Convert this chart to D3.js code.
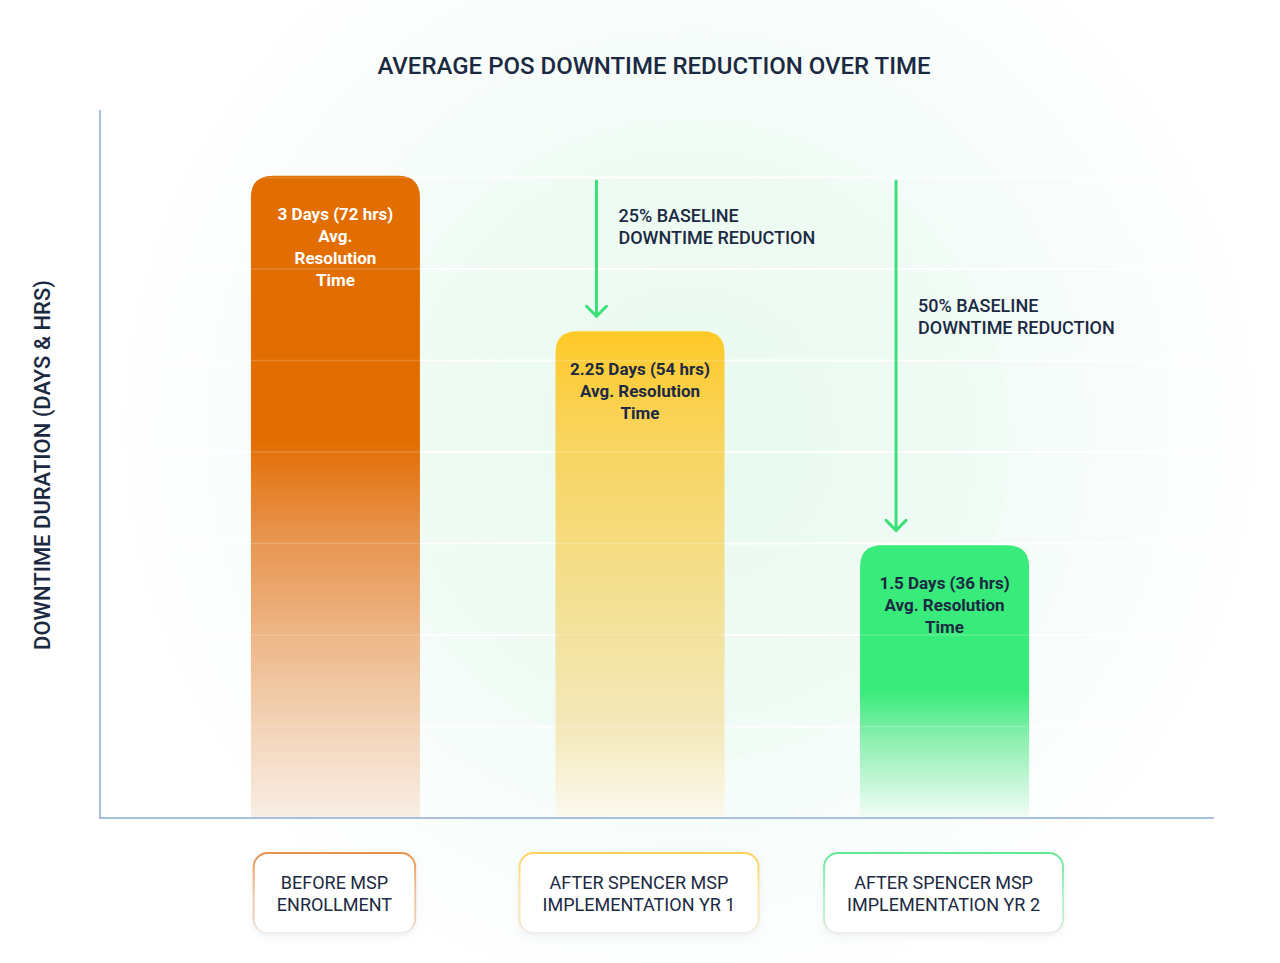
<!DOCTYPE html>
<html>
<head>
<meta charset="utf-8">
<script src="https://cdn.jsdelivr.net/npm/d3@7"></script>
<style>
  html, body { margin: 0; padding: 0; background: #fff; }
  svg { display: block; font-family: Roboto, "Open Sans", sans-serif; }
</style>
</head>
<body>
<svg id="chart"></svg>
<script>
const categories = ["BEFORE MSP|ENROLLMENT", "AFTER SPENCER MSP|IMPLEMENTATION YR 1", "AFTER SPENCER MSP|IMPLEMENTATION YR 2"]
// bar heights as drawn, in grid units (gridlines every 10)
const barValues = [70.2, 53.2, 29.8]
const barLabels = [
  ["3 Days (72 hrs)", "Avg.", "Resolution", "Time"],
  ["2.25 Days (54 hrs)", "Avg. Resolution", "Time"],
  ["1.5 Days (36 hrs)", "Avg. Resolution", "Time"],
]
const gridTicks = [10, 20, 30, 40, 50, 60, 70]
const reductions = [null, ["25% BASELINE", "DOWNTIME REDUCTION"], ["50% BASELINE", "DOWNTIME REDUCTION"]]
const title = "AVERAGE POS DOWNTIME REDUCTION OVER TIME"
const yTitle = "DOWNTIME DURATION (DAYS & HRS)"

const width = 1280
const height = 963
const ink = "#1b2942"
const arrowGreen = "#3ce07b"

const svg = d3.select("#chart").attr("width", width).attr("height", height)
const defs = svg.append("defs")

// background glow
const bg = defs.append("radialGradient").attr("id", "bgGlow")
  .attr("gradientUnits", "userSpaceOnUse").attr("cx", 690).attr("cy", 430).attr("r", 600)
bg.append("stop").attr("offset", 0).attr("stop-color", "#edfbf3")
bg.append("stop").attr("offset", 0.55).attr("stop-color", "#f4fcf8")
bg.append("stop").attr("offset", 1).attr("stop-color", "#ffffff")
svg.append("rect").attr("width", width).attr("height", height).attr("fill", "url(#bgGlow)")

const inner = defs.append("radialGradient").attr("id", "innerGlow")
  .attr("gradientUnits", "userSpaceOnUse").attr("cx", 690).attr("cy", 440).attr("r", 330)
inner.append("stop").attr("offset", 0).attr("stop-color", "#e8faef").attr("stop-opacity", 0.8)
inner.append("stop").attr("offset", 0.96).attr("stop-color", "#ecfbf2").attr("stop-opacity", 0.5)
inner.append("stop").attr("offset", 1).attr("stop-color", "#ffffff").attr("stop-opacity", 0)
svg.append("circle").attr("cx", 690).attr("cy", 440).attr("r", 330).attr("fill", "url(#innerGlow)")

const x = d3.scaleBand().domain(categories).range([183, 1097])
  .paddingInner(0.445).paddingOuter(0.223)
const y = d3.scaleLinear().domain([0, 80]).range([818, 86])

// bar gradients
const barStops = [
  [[0, "#e26d00"], [0.41, "#e26d00"], [0.55, "#e8914a"], [0.78, "#f0c49e"], [1, "#f9eee5"]],
  [[0, "#ffc926"], [0.2, "#f9d35a"], [0.55, "#f3e093"], [0.82, "#f4e9bb"], [1, "#fcf9ef"]],
  [[0, "#38eb7b"], [0.53, "#38eb7b"], [0.72, "#8ff0b2"], [1, "#f3fcf7"]],
]
barStops.forEach((stops, i) => {
  const g = defs.append("linearGradient").attr("id", `bar${i}`)
    .attr("x1", 0).attr("y1", 0).attr("x2", 0).attr("y2", 1)
  stops.forEach(s => g.append("stop").attr("offset", s[0]).attr("stop-color", s[1]))
})
const boxColors = ["#e8914a", "#ffd45c", "#63e896"]
boxColors.forEach((c, i) => {
  const g = defs.append("linearGradient").attr("id", `box${i}`)
    .attr("x1", 0).attr("y1", 0).attr("x2", 0).attr("y2", 1)
  g.append("stop").attr("offset", 0).attr("stop-color", c)
  g.append("stop").attr("offset", 0.55).attr("stop-color", c).attr("stop-opacity", 0.45)
  g.append("stop").attr("offset", 1).attr("stop-color", "#f1ede9")
})
const shadow = defs.append("filter").attr("id", "shadow").attr("x", "-20%").attr("y", "-20%").attr("width", "140%").attr("height", "160%")
shadow.append("feDropShadow").attr("dx", 0).attr("dy", 2).attr("stdDeviation", 3)
  .attr("flood-color", "#9aa9b8").attr("flood-opacity", 0.18)

const data = categories.map((c, i) => ({ cat: c, value: barValues[i], label: barLabels[i], note: reductions[i], i }))

// gridlines behind the bars
const grid = (opacity) => svg.append("g").selectAll("line").data(gridTicks).enter().append("line")
  .attr("x1", 102).attr("x2", 1214)
  .attr("y1", d => y(d)).attr("y2", d => y(d))
  .attr("stroke", "#ffffff").attr("stroke-width", 2).attr("stroke-opacity", opacity)
grid(0.9)

// bars with rounded tops
const r = 22
const barPath = d => {
  const x0 = x(d.cat), x1 = x0 + x.bandwidth(), y0 = y(d.value), yb = y(0)
  return `M${x0},${yb}V${y0 + r}Q${x0},${y0} ${x0 + r},${y0}H${x1 - r}Q${x1},${y0} ${x1},${y0 + r}V${yb}Z`
}
const bars = svg.selectAll(".bar").data(data).enter().append("path")
  .attr("class", "bar")
  .attr("d", barPath)
  .attr("fill", d => `url(#bar${d.i})`)

// same gridlines, barely visible across the bars
const clip = defs.append("clipPath").attr("id", "barClip")
data.forEach(d => clip.append("path").attr("d", barPath(d)))
svg.append("g").attr("clip-path", "url(#barClip)").selectAll("line").data(gridTicks).enter().append("line")
  .attr("x1", 102).attr("x2", 1214)
  .attr("y1", d => y(d)).attr("y2", d => y(d))
  .attr("stroke", "#ffffff").attr("stroke-width", 1.5).attr("stroke-opacity", 0.18)

// axes
svg.append("line").attr("x1", 100).attr("x2", 100).attr("y1", 110).attr("y2", y(0) + 1)
  .attr("stroke", "#a9c0dd").attr("stroke-width", 2)
svg.append("line").attr("x1", 99).attr("x2", 1214).attr("y1", y(0)).attr("y2", y(0))
  .attr("stroke", "#a9c0dd").attr("stroke-width", 2)

// bar labels
data.forEach(d => {
  const t = svg.append("text")
    .attr("text-anchor", "middle")
    .attr("font-size", 17).attr("font-weight", 700)
    .attr("fill", d.i === 0 ? "#ffffff" : ink)
  d.label.forEach((line, k) => {
    t.append("tspan").attr("x", x(d.cat) + x.bandwidth() / 2)
      .attr("y", y(d.value) + 44 + k * 22).text(line)
  })
})

// reduction arrows and notes
const arrowOffsets = [0, 41, 36]
data.filter(d => d.note).forEach(d => {
  const ax = x(d.cat) + arrowOffsets[d.i]
  const tip = y(d.value) - 15
  const g = svg.append("g").attr("stroke", arrowGreen).attr("stroke-width", 3)
    .attr("fill", "none").attr("stroke-linecap", "round").attr("stroke-linejoin", "round")
  g.append("line").attr("x1", ax).attr("x2", ax).attr("y1", 181).attr("y2", tip)
  g.append("path").attr("d", `M${ax - 10},${tip - 10}L${ax},${tip}L${ax + 10},${tip - 10}`)
  const ty = d.i === 1 ? 222 : 312
  const t = svg.append("text").attr("font-size", 18).attr("font-weight", 500).attr("fill", ink)
  d.note.forEach((line, k) => {
    t.append("tspan").attr("x", ax + 22).attr("y", ty + k * 22).text(line)
  })
})

// category boxes
data.forEach(d => {
  const cx = x(d.cat) + x.bandwidth() / 2 - 1
  const g = svg.append("g")
  const lines = d.cat.split("|")
  const rect = g.append("rect")
  const t = g.append("text").attr("text-anchor", "middle")
    .attr("font-size", 18).attr("font-weight", 400).attr("fill", ink)
  lines.forEach((line, k) => {
    t.append("tspan").attr("x", cx).attr("y", 889 + k * 22).text(line)
  })
  const w = t.node().getBBox().width + 46
  rect.attr("x", cx - w / 2).attr("y", 853).attr("width", w).attr("height", 80)
    .attr("rx", 14).attr("fill", "#ffffff")
    .attr("stroke", `url(#box${d.i})`).attr("stroke-width", 2)
    .attr("filter", "url(#shadow)")
})

// titles
svg.append("text").attr("x", 654).attr("y", 74).attr("text-anchor", "middle")
  .attr("font-size", 24).attr("font-weight", 500).attr("fill", ink).text(title)
svg.append("text").attr("transform", "translate(50,465) rotate(-90)")
  .attr("text-anchor", "middle").attr("font-size", 22).attr("font-weight", 500)
  .attr("fill", ink).text(yTitle)
</script>
</body>
</html>
